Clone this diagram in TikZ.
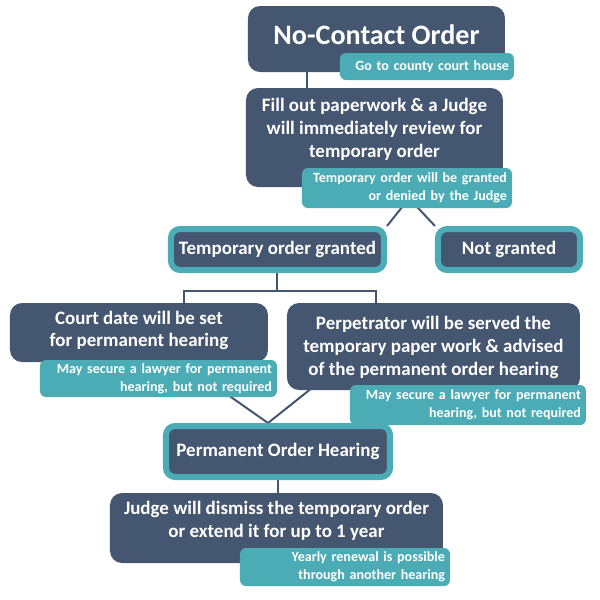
\documentclass[tikz,border=0pt]{standalone}
\usepackage{fontspec}
\setmainfont{Carlito}
\usepackage{tikz}
\usetikzlibrary{positioning,calc,backgrounds}
\definecolor{slate}{RGB}{69,86,112}
\definecolor{noteteal}{RGB}{75,172,182}
\newlength\px
\setlength\px{0.02cm}

\begin{document}
\begin{tikzpicture}[x=1\px,y=-1\px,
        stepbox/.style={fill=slate,text=white,rounded corners=12\px,inner sep=0pt,align=center,font=\bfseries\fontsize{10.8}{13}\selectfont},
        steptext/.style={text=white,align=center,inner sep=0pt,font=\bfseries\fontsize{10.8}{13}\selectfont},
        framebox/.style={stepbox,draw=noteteal,line width=6\px,rounded corners=9\px},
        notebox/.style={fill=noteteal,text=white,rounded corners=6\px,inner xsep=5\px,inner ysep=0pt,align=right,font=\bfseries\fontsize{8}{10}\selectfont},
        link/.style={draw=slate,line width=2\px}]
        \useasboundingbox (0,0) rectangle (600,600);
        \node[stepbox,minimum width=257\px,minimum height=66\px,label={[steptext,yshift=4\px,font=\bfseries\fontsize{16}{19}\selectfont]center:No-Contact Order}] (order) at (376.5,39) {};
        \node[notebox,text width=164\px,minimum height=27\px] (house) at (427,66.5) {Go to county court house};
        \node[stepbox,minimum width=257\px,minimum height=99\px,label={[steptext,yshift=8\px]center:Fill out paperwork \& a Judge\\will immediately review for\\temporary order}] (paper) at (374.5,137.5) {};
        \node[notebox,text width=200\px,minimum height=40\px] (review) at (407,188) {Temporary order will be granted\\or denied by the Judge};
        \node[framebox,minimum width=213\px,minimum height=41\px] (granted) at (277.5,249.5) {Temporary order granted};
        \node[framebox,minimum width=142\px,minimum height=41\px] (denied) at (509,249.5) {Not granted};
        \node[stepbox,minimum width=258\px,minimum height=59\px,label={[steptext,yshift=2\px]center:Court date will be set\\for permanent hearing}] (date) at (139,332.5) {};
        \node[notebox,text width=227\px,minimum height=37\px] (lawyerA) at (158.5,378.5) {May secure a lawyer for permanent\\hearing, but not required};
        \node[stepbox,minimum width=293\px,minimum height=87\px,label={[steptext,yshift=-1\px]center:Perpetrator will be served the\\temporary paper work \& advised\\of the permanent order hearing}] (served) at (433.5,346.5) {};
        \node[notebox,text width=226\px,minimum height=40\px] (lawyerB) at (468,405) {May secure a lawyer for permanent\\hearing, but not required};
        \node[framebox,minimum width=224\px,minimum height=51\px] (hearing) at (278,451.5) {Permanent Order Hearing};
        \node[stepbox,minimum width=333\px,minimum height=70\px,label={[steptext,yshift=7\px]center:Judge will dismiss the temporary order\\or extend it for up to 1 year}] (ruling) at (276.5,528) {};
        \node[notebox,text width=200\px,minimum height=38\px] (renewal) at (345,567) {Yearly renewal is possible\\through another hearing};
        \begin{scope}[on background layer]
            \draw[link] ([xshift=-69.5\px]order.south) -- ([xshift=-67.5\px]paper.north);
            \draw[link] (granted.north east) -- ([shift={(2,-10)}]review.south) -- (denied.north west);
            \draw[link] (granted.south) -- ++(0,18) coordinate (bus);
            \draw[link] ([xshift=45\px]date.north) |- (bus) -| ([xshift=-57.5\px]served.north);
            \draw[link] (date.center) -- ([xshift=-10\px]hearing.north) -- ([shift={(60,-30)}]served.south west);
            \draw[link] (hearing.south) -- (hearing.south |- ruling.north);
        \end{scope}
    \end{tikzpicture}
\end{document}
